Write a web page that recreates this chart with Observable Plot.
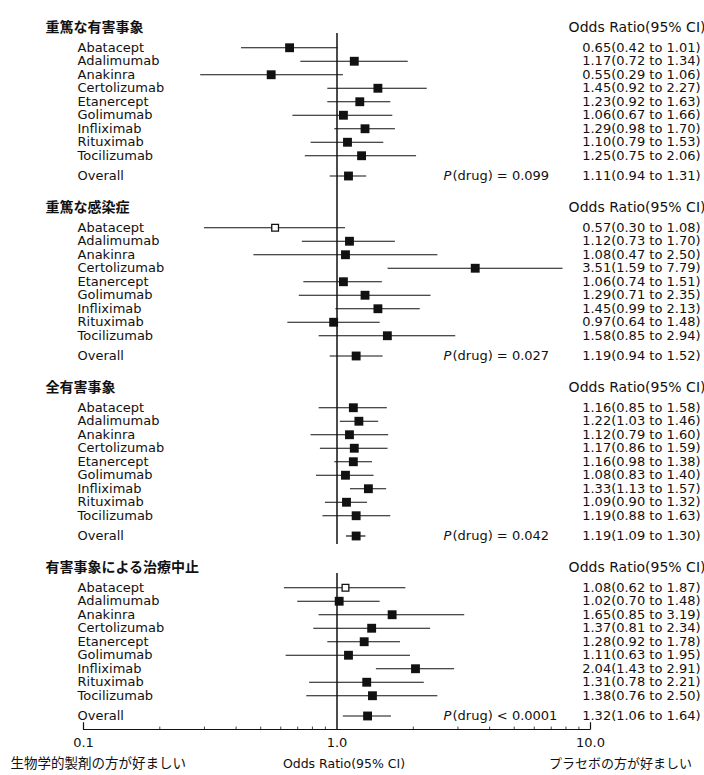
<!DOCTYPE html>
<html>
<head>
<meta charset="utf-8">
<script src="https://cdn.jsdelivr.net/npm/d3@7"></script>
<script src="https://cdn.jsdelivr.net/npm/@observablehq/plot@0.6"></script>
<style>
  html, body { margin: 0; padding: 0; background: #fff; }
  #chart svg { display: block; }
</style>
</head>
<body>
<div id="chart"></div>
<script>
// ---------- data ----------
const panelTitles = ["重篤な有害事象", "重篤な感染症", "全有害事象", "有害事象による治療中止"];
const drugs = ["Abatacept", "Adalimumab", "Anakinra", "Certolizumab", "Etanercept",
               "Golimumab", "Infliximab", "Rituximab", "Tocilizumab"];

// Serious adverse events
const orSAE = [0.65, 1.17, 0.55, 1.45, 1.23, 1.06, 1.29, 1.10, 1.25];
const loSAE = [0.42, 0.72, 0.29, 0.92, 0.92, 0.67, 0.98, 0.79, 0.75];
const hiSAE = [1.01, 1.91, 1.06, 2.27, 1.63, 1.66, 1.70, 1.53, 2.06];
const labSAE = ["0.65(0.42 to 1.01)", "1.17(0.72 to 1.34)", "0.55(0.29 to 1.06)", "1.45(0.92 to 2.27)",
                "1.23(0.92 to 1.63)", "1.06(0.67 to 1.66)", "1.29(0.98 to 1.70)", "1.10(0.79 to 1.53)",
                "1.25(0.75 to 2.06)"];

// Serious infections
const orSI = [0.57, 1.12, 1.08, 3.51, 1.06, 1.29, 1.45, 0.97, 1.58];
const loSI = [0.30, 0.73, 0.47, 1.59, 0.74, 0.71, 0.99, 0.64, 0.85];
const hiSI = [1.08, 1.70, 2.50, 7.79, 1.51, 2.35, 2.13, 1.48, 2.94];
const labSI = ["0.57(0.30 to 1.08)", "1.12(0.73 to 1.70)", "1.08(0.47 to 2.50)", "3.51(1.59 to 7.79)",
               "1.06(0.74 to 1.51)", "1.29(0.71 to 2.35)", "1.45(0.99 to 2.13)", "0.97(0.64 to 1.48)",
               "1.58(0.85 to 2.94)"];

// Total adverse events
const orAE = [1.16, 1.22, 1.12, 1.17, 1.16, 1.08, 1.33, 1.09, 1.19];
const loAE = [0.85, 1.03, 0.79, 0.86, 0.98, 0.83, 1.13, 0.90, 0.88];
const hiAE = [1.58, 1.46, 1.60, 1.59, 1.38, 1.40, 1.57, 1.32, 1.63];
const labAE = ["1.16(0.85 to 1.58)", "1.22(1.03 to 1.46)", "1.12(0.79 to 1.60)", "1.17(0.86 to 1.59)",
               "1.16(0.98 to 1.38)", "1.08(0.83 to 1.40)", "1.33(1.13 to 1.57)", "1.09(0.90 to 1.32)",
               "1.19(0.88 to 1.63)"];

// Withdrawals due to adverse events
const orWD = [1.08, 1.02, 1.65, 1.37, 1.28, 1.11, 2.04, 1.31, 1.38];
const loWD = [0.62, 0.70, 0.85, 0.81, 0.92, 0.63, 1.43, 0.78, 0.76];
const hiWD = [1.87, 1.48, 3.19, 2.34, 1.78, 1.95, 2.91, 2.21, 2.50];
const labWD = ["1.08(0.62 to 1.87)", "1.02(0.70 to 1.48)", "1.65(0.85 to 3.19)", "1.37(0.81 to 2.34)",
               "1.28(0.92 to 1.78)", "1.11(0.63 to 1.95)", "2.04(1.43 to 2.91)", "1.31(0.78 to 2.21)",
               "1.38(0.76 to 2.50)"];

// Overall rows
const overallOR = [1.11, 1.19, 1.19, 1.32];
const overallLo = [0.94, 0.94, 1.09, 1.06];
const overallHi = [1.31, 1.52, 1.30, 1.64];
const overallLab = ["1.11(0.94 to 1.31)", "1.19(0.94 to 1.52)", "1.19(1.09 to 1.30)", "1.32(1.06 to 1.64)"];
const pLabels = ["(drug) = 0.099", "(drug) = 0.027", "(drug) = 0.042", "(drug) < 0.0001"];

const columnHeader = "Odds Ratio(95% CI)";
const tickValues = [0.1, 1, 10];
const tickLabels = ["0.1", "1.0", "10.0"];
const minorTicks = [0.2, 0.3, 0.4, 0.5, 0.6, 0.7, 0.8, 0.9, 2, 3, 4, 5, 6, 7, 8, 9];
const leftNote = "生物学的製剤の方が好ましい";
const rightNote = "プラセボの方が好ましい";

// ---------- layout (row units) ----------
const PANEL = 13.333, FIRST = 1.5, OVERALL = 11, AXIS = 52;
const series = [
  {or: orSAE, lo: loSAE, hi: hiSAE, lab: labSAE},
  {or: orSI,  lo: loSI,  hi: hiSI,  lab: labSI},
  {or: orAE,  lo: loAE,  hi: hiAE,  lab: labAE},
  {or: orWD,  lo: loWD,  hi: hiWD,  lab: labWD}
];
const rows = [];
const overallRows = [];
series.forEach((s, p) => {
  drugs.forEach((name, i) => rows.push({
    p, name, or: s.or[i], lo: s.lo[i], hi: s.hi[i], lab: s.lab[i],
    y: p * PANEL + FIRST + i, hollow: i === 0 && (p === 1 || p === 3)
  }));
  const o = {p, name: "Overall", or: overallOR[p], lo: overallLo[p], hi: overallHi[p],
             lab: overallLab[p], plab: pLabels[p], y: p * PANEL + OVERALL, hollow: false};
  rows.push(o);
  overallRows.push(o);
});
const titleRows = panelTitles.map((t, p) => ({t, y: p * PANEL}));

const INK = "#111";
const JP = "'Noto Sans CJK JP', 'Noto Sans CJK SC', sans-serif";

const plot = Plot.plot({
  width: 704,
  height: 775,
  marginTop: 0,
  marginBottom: 775 - 729,
  marginLeft: 0,
  marginRight: 0,
  style: {fontFamily: "'DejaVu Sans', sans-serif", fontSize: "13px", color: INK, background: "#fff"},
  x: {type: "log", domain: [0.1, 10], range: [83, 590], axis: null},
  y: {domain: [-2, AXIS], range: [0, 729], axis: null},
  marks: [
    // reference line at OR = 1
    Plot.ruleX([1], {y1: 0.45, y2: 38.3, stroke: INK, strokeWidth: 1.5}),
    Plot.ruleX([1], {y1: 40.45, y2: AXIS, stroke: INK, strokeWidth: 1.5}),
    // confidence intervals
    Plot.ruleY(rows, {x1: "lo", x2: "hi", y: "y", stroke: INK, strokeWidth: 1.2}),
    // point estimates
    Plot.dot(rows.filter(d => !d.hollow), {x: "or", y: "y", symbol: "square", r: 5, fill: INK, stroke: null}),
    Plot.dot(rows.filter(d => d.hollow), {x: "or", y: "y", symbol: "square", r: 3.8, fill: "#fff", stroke: INK, strokeWidth: 1.3}),
    // row labels
    Plot.text(rows, {y: "y", text: "name", frameAnchor: "left", dx: 77, textAnchor: "start", fontSize: 13, fill: INK}),
    Plot.text(rows, {y: "y", text: "lab", frameAnchor: "right", dx: -4, textAnchor: "end", fontSize: 13, fill: INK}),
    // panel titles & column header
    Plot.text(titleRows, {y: "y", text: "t", frameAnchor: "left", dx: 45, textAnchor: "start",
      fontSize: 14, fontFamily: JP, fontWeight: "bold", fill: INK, ariaLabel: "jp-title"}),
    Plot.text(titleRows, {y: "y", text: () => columnHeader, frameAnchor: "right", dx: 1, textAnchor: "end", fontSize: 14, fill: INK}),
    // P values
    Plot.text(overallRows, {y: "y", text: () => "P", frameAnchor: "left", dx: 443, textAnchor: "start", fontStyle: "italic", fontSize: 13, fill: INK}),
    Plot.text(overallRows, {y: "y", text: "plab", frameAnchor: "left", dx: 452, textAnchor: "start", fontSize: 13, fill: INK}),
    // x axis
    Plot.ruleY([AXIS], {x1: 0.1, x2: 10, stroke: INK, strokeWidth: 1.2}),
    Plot.ruleX([0.1, 10], {y1: AXIS - 0.5, y2: AXIS + 0.05, stroke: INK, strokeWidth: 1.2}),
    Plot.ruleX(minorTicks, {y1: AXIS - 0.18, y2: AXIS, stroke: INK, strokeWidth: 0.8}),
    Plot.text(tickValues, {x: d => d, text: (d, i) => tickLabels[i], frameAnchor: "bottom", dy: 17, fontSize: 13, fill: INK}),
    Plot.text([1], {x: d => d, text: () => columnHeader, frameAnchor: "bottom", dx: 7, dy: 38, fontSize: 12.5, fill: INK}),
    Plot.text([leftNote], {text: d => d, frameAnchor: "bottom-left", dx: 10, dy: 38, textAnchor: "start",
      fontSize: 13.5, fontFamily: JP, fill: INK, ariaLabel: "jp-left"}),
    Plot.text([10], {x: d => d, text: () => rightNote, frameAnchor: "bottom", dx: 30, dy: 38,
      fontSize: 13, fontFamily: JP, fill: INK, ariaLabel: "jp-right"})
  ]
});

d3.select(plot).selectAll('g[aria-label="jp-title"] text').style("letter-spacing", "3px");
d3.select(plot).selectAll('g[aria-label="jp-left"] text').style("letter-spacing", "3.2px");
d3.select(plot).selectAll('g[aria-label="jp-right"] text').style("letter-spacing", "1.3px");

document.getElementById("chart").appendChild(plot);
</script>
</body>
</html>
